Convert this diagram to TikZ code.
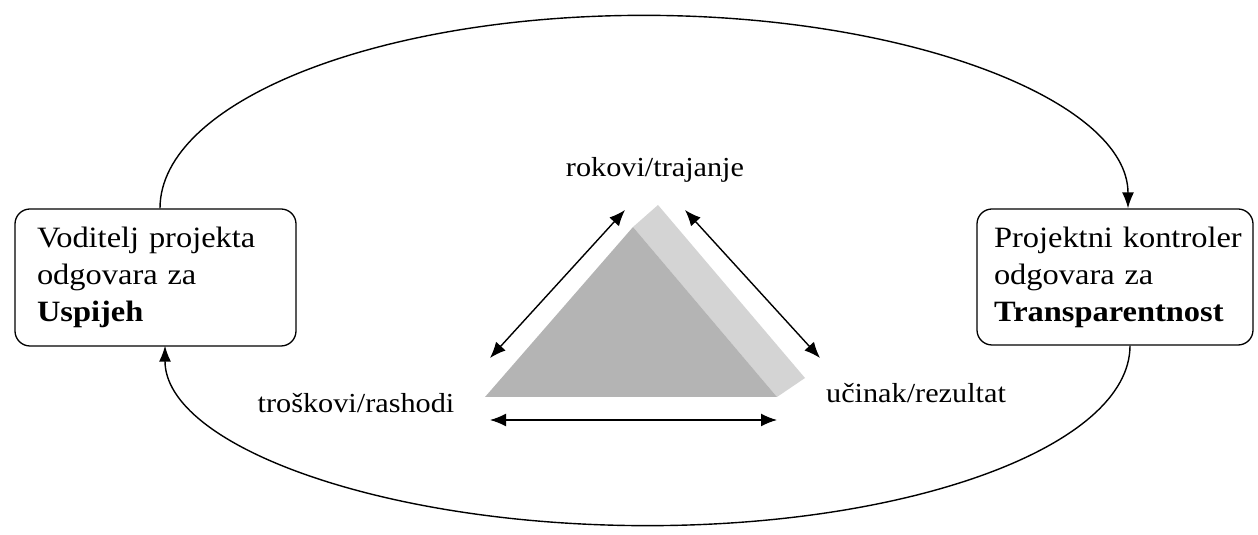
\documentclass[tikz,border=0pt]{standalone}
\usepackage{fontspec}
\setmainfont{Liberation Serif}[FakeStretch=1.1]
\usetikzlibrary{arrows.meta,calc}
\definecolor{triDark}{RGB}{180,180,180}
\definecolor{triLight}{RGB}{212,212,212}
\begin{document}
\begin{tikzpicture}[x=1pt,y=1pt,
  box/.style={draw, line width=1.3pt, rounded corners=15pt, align=left, inner ysep=0pt,
    font=\fontsize{29.5}{37}\selectfont},
  lbl/.style={font=\fontsize{27.5}{30}\selectfont, inner sep=0pt},
  conn/.style={line width=1.4pt},
  tipend/.style={-{Latex[length=16pt,width=12pt]}},
  dbl/.style={{Latex[length=16pt,width=13pt]}-{Latex[length=16pt,width=13pt]}}]
\useasboundingbox (0,0) rectangle (1258,535);
% boxes
\node[box, minimum width=281pt, minimum height=137pt, inner xsep=22pt, text width=237pt] (L) at (155.5,257.5)
  {\mbox{Voditelj projekta}\\ \mbox{odgovara za}\\ \mbox{\textbf{Uspijeh}}};
\node[box, minimum width=276pt, minimum height=136pt, inner xsep=17pt, text width=242pt] (R) at (1115,258)
  {\mbox{Projektni kontroler}\\ \mbox{odgovara za}\\ \mbox{\textbf{Transparentnost}}};
% triangle
\fill[triLight] (633,308) -- (658,330) -- (805,157) -- (777,138) -- cycle;
\fill[triDark] (633,308) -- (485,138) -- (777,138) -- cycle;
% labels
\node[lbl] (top) at (655,365) {rokovi/trajanje};
\node[lbl] (cost) at (356,132) {troškovi/rashodi};
\node[lbl] (perf) at (916,142) {učinak/rezultat};
% double arrows
\coordinate (a1) at (490,177);
\coordinate (a2) at (625,325);
\coordinate (b1) at (685,325);
\coordinate (b2) at (820,177);
\coordinate (c1) at (490,115);
\coordinate (c2) at (777,115);
\draw[conn,dbl] (a1) -- (a2);
\draw[conn,dbl] (b1) -- (b2);
\draw[conn,dbl] (c1) -- (c2);
% big arcs
\draw[conn,tipend] ([xshift=4.5pt]L.north) arc[start angle=180,end angle=0,x radius=484pt,y radius=193pt];
\draw[conn,tipend] ([xshift=15pt]R.south) arc[start angle=0,end angle=-180,x radius=482.5pt,y radius=180pt];
\end{tikzpicture}
\end{document}
